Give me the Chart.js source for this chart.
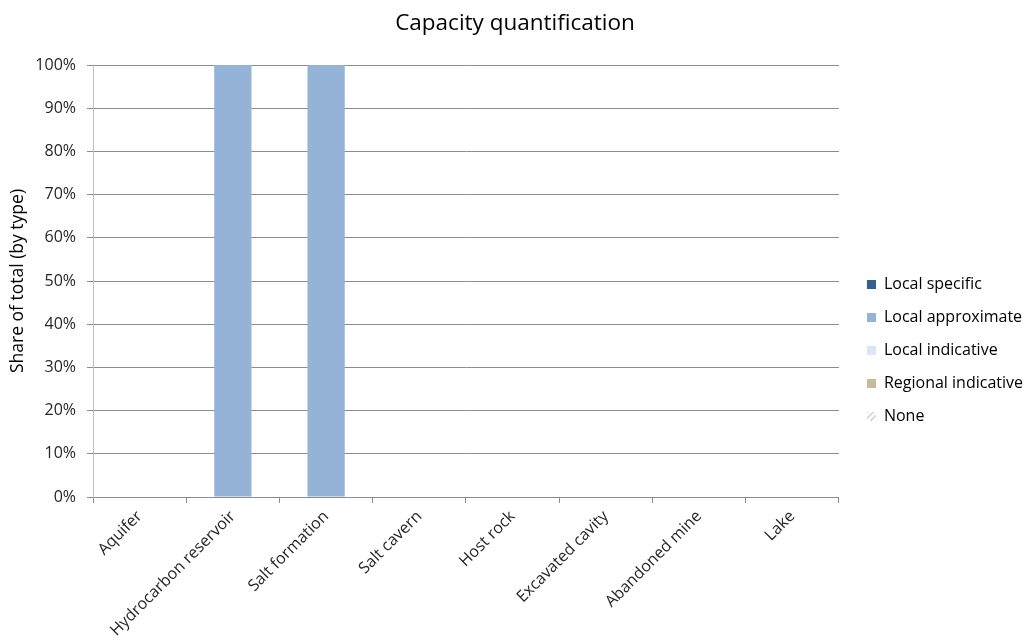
<!DOCTYPE html>
<html>
<head>
<meta charset="utf-8">
<script src="https://cdn.jsdelivr.net/npm/chart.js@4/dist/chart.umd.min.js"></script>
<style>
  body { margin: 0; background: #fff; }
  #wrap { width: 1026px; height: 641px; }
</style>
</head>
<body>
<div id="wrap"><canvas id="chart" width="1026" height="641"></canvas></div>
<script>
// categories and series (share of total, %)
const categories = ['Aquifer', 'Hydrocarbon reservoir', 'Salt formation', 'Salt cavern',
  'Host rock', 'Excavated cavity', 'Abandoned mine', 'Lake'];
const localSpecific = [0, 0, 0, 0, 0, 0, 0, 0];
const localApproximate = [0, 100, 100, 0, 0, 0, 0, 0];
const localIndicative = [0, 0, 0, 0, 0, 0, 0, 0];
const regionalIndicative = [0, 0, 0, 0, 0, 0, 0, 0];
const noneValues = [0, 0, 0, 0, 0, 0, 0, 0];
const yTicks = [0, 10, 20, 30, 40, 50, 60, 70, 80, 90, 100];

const FONT = '"Open Sans", Lato, sans-serif';

// hatched fill for "None"
function makeHatch() {
  const c = document.createElement('canvas');
  c.width = 6;
  c.height = 6;
  const g = c.getContext('2d');
  g.fillStyle = '#ffffff';
  g.fillRect(0, 0, 6, 6);
  g.strokeStyle = '#c0c0c0';
  g.lineWidth = 1.2;
  g.beginPath();
  g.moveTo(0, 6); g.lineTo(6, 0);
  g.moveTo(-1, 1); g.lineTo(1, -1);
  g.moveTo(5, 7); g.lineTo(7, 5);
  g.stroke();
  return g.createPattern(c, 'repeat');
}

// legend marker: 9px square with empty room on its left (keeps gap to plot)
function makeMarker(fill) {
  const c = document.createElement('canvas');
  c.width = 20;
  c.height = 9;
  const g = c.getContext('2d');
  g.fillStyle = fill;
  g.fillRect(11, 0, 9, 9);
  return c;
}

const ctx = document.getElementById('chart').getContext('2d');
const hatch = makeHatch();

const series = [
  { label: 'Local specific', data: localSpecific, color: '#376092' },
  { label: 'Local approximate', data: localApproximate, color: '#95b3d7' },
  { label: 'Local indicative', data: localIndicative, color: '#dce6f2' },
  { label: 'Regional indicative', data: regionalIndicative, color: '#c4bd97' },
  { label: 'None', data: noneValues, color: hatch }
];
const markers = series.map(s => makeMarker(s.color));

new Chart(ctx, {
  type: 'bar',
  data: {
    labels: categories,
    datasets: series.map(s => ({
      label: s.label,
      data: s.data,
      backgroundColor: s.color,
      borderWidth: 0,
      categoryPercentage: 1,
      barPercentage: 0.4
    }))
  },
  options: {
    responsive: false,
    animation: false,
    layout: { padding: { left: -3, right: -7, top: 0, bottom: 0 } },
    plugins: {
      title: {
        display: true,
        text: 'Capacity quantification',
        color: '#000',
        font: { family: FONT, size: 22.5, weight: 'normal' },
        padding: { top: 10.5, bottom: 27.5 }
      },
      legend: {
        position: 'right',
        align: 'start',
        // empty title only pushes the items down
        title: { display: true, text: ' ', font: { size: 2, lineHeight: 1 }, padding: { top: 257, bottom: 0 } },
        labels: {
          color: '#000',
          font: { family: FONT, size: 16 },
          usePointStyle: true,
          pointStyleWidth: 20,
          boxHeight: 9,
          padding: 17,
          generateLabels: chart => Chart.defaults.plugins.legend.labels.generateLabels(chart)
            .map((item, i) => Object.assign(item, { pointStyle: markers[i] }))
        }
      },
      tooltip: { enabled: false }
    },
    scales: {
      x: {
        stacked: true,
        grid: {
          offset: true,
          drawOnChartArea: false,
          drawTicks: true,
          tickLength: 6,
          color: '#8c8c8c'
        },
        border: { color: '#8c8c8c' },
        ticks: {
          color: '#262626',
          font: { family: FONT, size: 16 },
          maxRotation: 45,
          minRotation: 45,
          padding: 4
        },
        afterFit: scale => { scale.height = 144; }
      },
      y: {
        stacked: true,
        min: 0,
        max: 100,
        afterBuildTicks: scale => { scale.ticks = yTicks.map(v => ({ value: v })); },
        grid: { color: '#8c8c8c', tickLength: 6 },
        border: { color: '#c0c0c0' },
        ticks: {
          color: '#262626',
          font: { family: FONT, size: 16 },
          padding: 11,
          callback: v => v + '%'
        },
        title: {
          display: true,
          text: 'Share of total (by type)',
          color: '#000',
          font: { family: FONT, size: 17.5 },
          padding: { top: 11, bottom: 4 }
        },
        afterFit: scale => { scale.width = 96; }
      }
    }
  }
});
</script>
</body>
</html>
